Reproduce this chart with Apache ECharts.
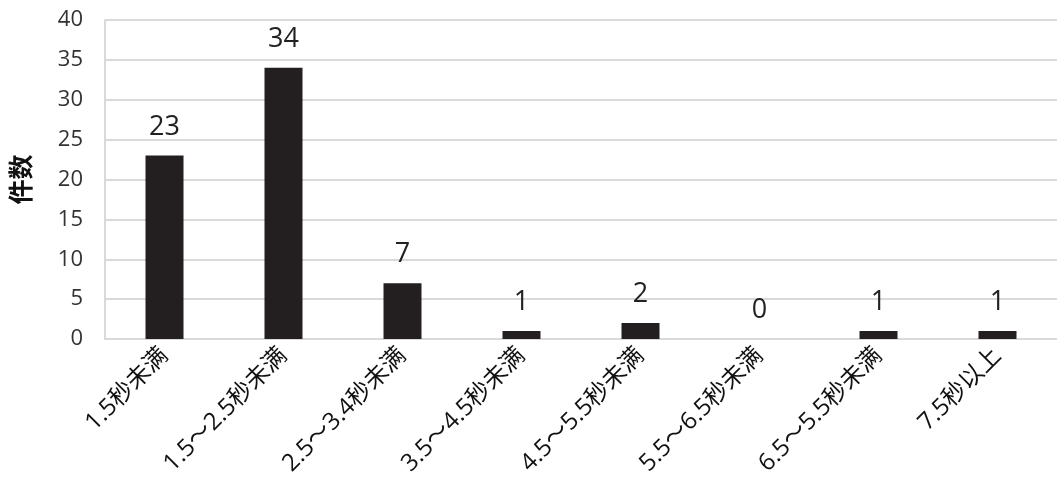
<!DOCTYPE html>
<html>
<head>
<meta charset="utf-8">
<script src="https://cdn.jsdelivr.net/npm/echarts@6/dist/echarts.min.js"></script>
<style>
html,body{margin:0;padding:0;background:#fff;}
#chart{width:1057px;height:504px;}
</style>
</head>
<body>
<div id="chart"></div>
<script>
const categories = ['1.5秒未满','1.5～2.5秒未满','2.5～3.4秒未满','3.5～4.5秒未满','4.5～5.5秒未满','5.5～6.5秒未满','6.5～5.5秒未满','7.5秒以上'];
const counts = [23, 34, 7, 1, 2, 0, 1, 1];
const yAxisName = '件数';

const font = "'Open Sans', 'Noto Sans CJK SC', sans-serif";
const chart = echarts.init(document.getElementById('chart'));
chart.setOption({
  animation: false,
  backgroundColor: '#fff',
  grid: { left: 104, right: -5, top: 20, bottom: 165, containLabel: false },
  xAxis: {
    type: 'category',
    data: categories,
    axisLine: { show: true, lineStyle: { color: '#d9d9d9', width: 2 } },
    axisTick: { show: false },
    axisLabel: {
      rotate: 45, interval: 0, margin: 13,
      color: '#111', fontSize: 24,
      fontFamily: "'Open Sans', 'Noto Sans CJK SC', sans-serif"
    }
  },
  yAxis: {
    type: 'value',
    min: 0, max: 40, interval: 5,
    name: yAxisName,
    nameLocation: 'middle',
    nameRotate: 90,
    nameGap: 72,
    nameTextStyle: { fontSize: 25, fontWeight: 'bold', color: '#111', fontFamily: "'Noto Sans CJK SC', sans-serif" },
    axisLine: { show: true, lineStyle: { color: '#d9d9d9', width: 2 } },
    axisTick: { show: false },
    axisLabel: { color: '#333', fontSize: 22, margin: 22, fontFamily: font },
    splitLine: { show: true, lineStyle: { color: '#d9d9d9', width: 2 } }
  },
  series: [{
    type: 'bar',
    data: counts,
    barWidth: 38,
    itemStyle: { color: '#231f20' },
    label: {
      show: true, position: 'top', distance: 15,
      color: '#222', fontSize: 27, fontFamily: font
    }
  }]
});
</script>
</body>
</html>
